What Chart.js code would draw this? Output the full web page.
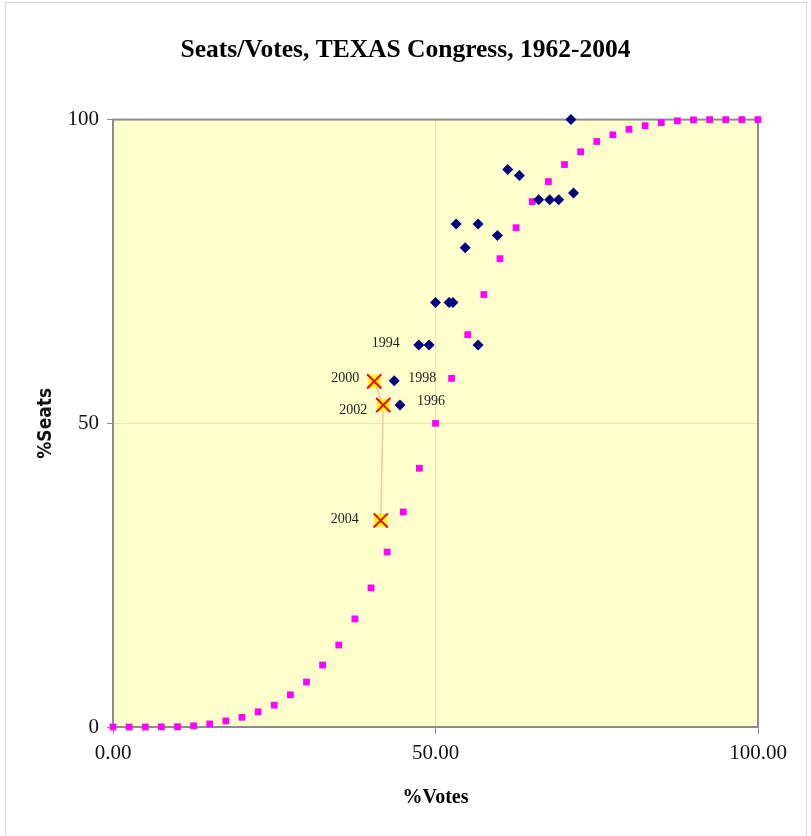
<!DOCTYPE html>
<html>
<head>
<meta charset="utf-8">
<script src="https://cdn.jsdelivr.net/npm/chart.js@4"></script>
<style>
  html, body { margin: 0; padding: 0; background: #ffffff; }
  #frame { position: absolute; left: 5px; top: 2px; width: 802px; height: 900px; border: 1px solid #d6d6d6; box-sizing: border-box; }
  #c { position: absolute; left: 0; top: 0; }
</style>
</head>
<body>
<div id="frame"></div>
<canvas id="c" width="811" height="836"></canvas>
<script>
// ---- data ----
const titleText = 'Seats/Votes, TEXAS Congress, 1962-2004';
const xAxisTitle = '%Votes';
const yAxisTitle = '%Seats';
const xTicks = [0, 50, 100];
const yTicks = [0, 50, 100];

// historical elections (dark blue diamonds)
const histVotes = [71.0, 61.2, 63.0, 53.2, 56.6, 54.6, 59.6, 66.0, 67.7, 69.1, 71.4, 50.0, 52.1, 52.7, 56.6, 49.0, 47.4, 43.6, 44.5];
const histSeats = [100, 91.8, 90.8, 82.8, 82.8, 78.9, 80.9, 86.8, 86.8, 86.8, 87.9, 69.9, 69.9, 69.9, 62.9, 62.9, 62.9, 57.0, 53.0];
const histLabels = ['', '', '', '', '', '', '', '', '', '', '', '', '', '', '', '', '1994', '1998', '1996'];

// recent elections (yellow squares with red X)
const recentYears = ['2000', '2002', '2004'];
const recentVotes = [40.5, 41.9, 41.5];
const recentSeats = [56.9, 53.0, 34.0];

// seats/votes curve (magenta squares)
const curveVotes = [0, 2.5, 5, 7.5, 10, 12.5, 15, 17.5, 20, 22.5, 25, 27.5, 30, 32.5, 35, 37.5, 40, 42.5, 45, 47.5, 50,
  52.5, 55, 57.5, 60, 62.5, 65, 67.5, 70, 72.5, 75, 77.5, 80, 82.5, 85, 87.5, 90, 92.5, 95, 97.5, 100];
const curveSeats = [0, 0, 0, 0.02, 0.05, 0.2, 0.5, 1.0, 1.6, 2.5, 3.6, 5.3, 7.4, 10.2, 13.5, 17.8, 22.9, 28.8, 35.4, 42.6, 50,
  57.4, 64.6, 71.2, 77.1, 82.2, 86.5, 89.8, 92.6, 94.7, 96.4, 97.5, 98.4, 99.0, 99.5, 99.8, 99.95, 100, 100, 100, 100];

// ---- build library structures ----
const toPts = (xs, ys) => xs.map((x, i) => ({ x: x, y: ys[i] }));
const labelOffsets = {
  '1994': { align: 'right', dx: -19, dy: -1.5 },
  '1998': { align: 'left', dx: 14, dy: -2 },
  '1996': { align: 'left', dx: 17, dy: -4 },
  '2000': { align: 'right', dx: -15, dy: -3 },
  '2002': { align: 'right', dx: -16, dy: 5 },
  '2004': { align: 'right', dx: -22, dy: -1 }
};

const plotBg = {
  id: 'plotBg',
  beforeDraw(chart) {
    const a = chart.chartArea, ctx = chart.ctx;
    ctx.save();
    ctx.fillStyle = '#FFFFCC';
    ctx.fillRect(a.left, a.top, a.right - a.left, a.bottom - a.top);
    ctx.restore();
  },
  beforeDatasetsDraw(chart) {
    const a = chart.chartArea, ctx = chart.ctx;
    ctx.save();
    ctx.strokeStyle = '#8c8c8c';
    ctx.lineWidth = 2;
    ctx.strokeRect(a.left, a.top, a.right - a.left, a.bottom - a.top);
    ctx.restore();
  }
};

const yearLabels = {
  id: 'yearLabels',
  afterDatasetsDraw(chart) {
    const ctx = chart.ctx, xs = chart.scales.x, ys = chart.scales.y;
    ctx.save();
    ctx.font = '14px "Liberation Serif"';
    ctx.fillStyle = '#222222';
    ctx.textBaseline = 'middle';
    const draw = (yr, vx, vy) => {
      const o = labelOffsets[yr];
      ctx.textAlign = o.align;
      ctx.fillText(yr, xs.getPixelForValue(vx) + o.dx, ys.getPixelForValue(vy) + o.dy);
    };
    histLabels.forEach((yr, i) => { if (yr) draw(yr, histVotes[i], histSeats[i]); });
    recentYears.forEach((yr, i) => draw(yr, recentVotes[i], recentSeats[i]));
    ctx.restore();
  }
};

const tickFont = { family: 'Liberation Serif', size: 21 };

new Chart(document.getElementById('c'), {
  type: 'scatter',
  data: {
    datasets: [
      { label: 'recent X', data: toPts(recentVotes, recentSeats), pointStyle: 'crossRot', pointRadius: 10,
        borderColor: '#FF0000', backgroundColor: '#FF0000', pointBorderWidth: 2, showLine: false, clip: false },
      { label: 'recent', data: toPts(recentVotes, recentSeats), pointStyle: 'rect', pointRadius: 8.5,
        backgroundColor: '#FFFF00', borderColor: '#FFE000', pointBorderWidth: 0.5, showLine: false, clip: false },
      { label: 'history', data: toPts(histVotes, histSeats), pointStyle: 'rectRot', pointRadius: 5.5,
        backgroundColor: '#000080', borderColor: '#000080', pointBorderWidth: 0, showLine: false, clip: false },
      { label: 'curve', data: toPts(curveVotes, curveSeats), pointStyle: 'rect', pointRadius: 4.8,
        backgroundColor: '#FF00FF', borderColor: '#FF00FF', pointBorderWidth: 0, showLine: false, clip: false },
      { label: 'recent line', data: toPts(recentVotes, recentSeats), showLine: true, pointRadius: 0,
        borderColor: '#F8C4AE', borderWidth: 1.5, fill: false, clip: false }
    ]
  },
  options: {
    responsive: false,
    devicePixelRatio: 1,
    animation: false,
    events: [],
    layout: { padding: { left: 0, right: 0, top: 0, bottom: 0 } },
    plugins: {
      legend: { display: false },
      tooltip: { enabled: false },
      title: {
        display: true, text: titleText, color: '#000000',
        font: { family: 'Liberation Serif', size: 25.5, weight: 'bold' },
        padding: { top: 35, bottom: 54 }
      }
    },
    scales: {
      x: {
        type: 'linear', min: 0, max: 100,
        afterFit(s) { s.height = 109; },
        afterBuildTicks(s) { s.ticks = xTicks.map(v => ({ value: v })); },
        ticks: { font: tickFont, color: '#111111', padding: 7, maxRotation: 0, autoSkip: false,
          callback: v => Number(v).toFixed(2) },
        grid: { color: '#E6E4C2', lineWidth: 1, tickColor: '#8c8c8c', tickLength: 7, drawOnChartArea: true },
        border: { display: false },
        title: { display: true, text: xAxisTitle, color: '#000000',
          font: { family: 'Liberation Serif', size: 20, weight: 'bold' }, padding: { top: 0, bottom: 26 } }
      },
      y: {
        type: 'linear', min: 0, max: 100,
        afterFit(s) { s.width = 113; },
        afterBuildTicks(s) { s.ticks = yTicks.map(v => ({ value: v })); },
        ticks: { font: tickFont, color: '#111111', padding: 8, autoSkip: false },
        grid: { color: '#E6E4C2', lineWidth: 1, tickColor: '#8c8c8c', tickLength: 6, drawOnChartArea: true },
        border: { display: false },
        title: { display: true, text: yAxisTitle, color: '#111111',
          font: { family: '"DejaVu Sans Condensed", "DejaVu Sans"', size: 19, weight: 'bold' }, padding: { top: 35, bottom: 0 } }
      },
      yRight: {
        type: 'linear', position: 'right', min: 0, max: 100, display: true,
        afterFit(s) { s.width = 53; },
        ticks: { display: false },
        grid: { display: false, drawTicks: false },
        border: { display: false },
        title: { display: false }
      }
    }
  },
  plugins: [plotBg, yearLabels]
});
</script>
</body>
</html>
